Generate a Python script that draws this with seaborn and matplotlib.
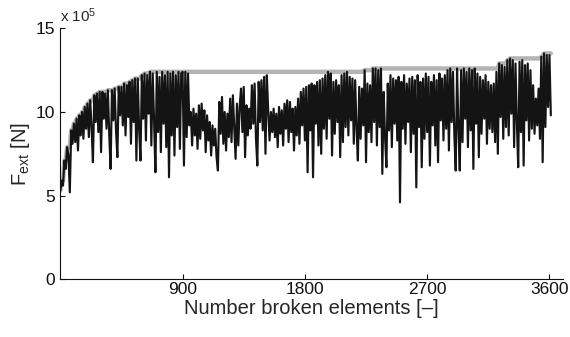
import numpy as np
import pandas as pd
import matplotlib
matplotlib.use("Agg")
import matplotlib.pyplot as plt
import seaborn as sns

# External force F_ext in units of 1e5 N, sampled every 10 broken elements
force_0_890 = [5.3, 5.9, 5.6, 7.1, 6.6, 7.9, 7.4, 5.2, 8.9, 8.1,
               9.3, 8.2, 9.6, 7.7, 9.8, 8.6, 10.0, 8.4, 10.3, 9.0,
               10.5, 8.5, 10.7, 9.1, 7.0, 11.0, 9.4, 11.1, 8.8, 11.2,
               7.6, 11.2, 9.6, 11.1, 9.0, 11.3, 8.7, 6.6, 11.3, 9.5,
               11.4, 8.9, 7.3, 11.5, 9.8, 11.5, 9.2, 11.7, 8.6, 11.6,
               9.7, 11.8, 8.1, 11.9, 9.4, 12.0, 7.1, 12.0, 9.0, 7.1,
               12.2, 9.6, 12.3, 8.3, 12.2, 9.9, 12.4, 8.0, 12.3, 9.5,
               6.4, 12.4, 8.8, 12.1, 7.6, 12.4, 9.3, 12.2, 7.9, 12.4,
               6.1, 12.3, 8.6, 12.4, 7.4, 12.2, 9.1, 12.4, 7.8, 12.3]
force_900_1790 = [12.4, 6.8, 12.4, 8.5, 12.3, 9.2, 10.0, 8.0, 10.2, 8.6,
                  9.9, 7.8, 10.4, 8.4, 10.5, 8.9, 10.1, 7.6, 9.8, 8.3,
                  9.4, 7.4, 9.2, 8.0, 9.0, 7.3, 6.5, 10.6, 8.7, 10.9,
                  8.1, 10.0, 7.7, 9.9, 8.5, 10.8, 8.2, 11.0, 9.1, 7.2,
                  10.5, 8.0, 10.3, 11.4, 8.8, 11.5, 7.3, 10.4, 8.6, 10.2,
                  9.0, 11.6, 9.3, 11.7, 8.4, 6.8, 11.8, 9.4, 11.9, 8.9,
                  12.1, 7.5, 12.2, 10.1, 8.3, 10.0, 8.8, 10.2, 8.5, 9.9,
                  7.9, 10.3, 8.7, 10.1, 8.0, 10.5, 9.0, 10.7, 8.2, 10.6,
                  8.8, 10.2, 7.7, 10.3, 8.6, 10.8, 8.1, 11.2, 9.2, 11.4]
force_1800_2690 = [8.3, 11.5, 6.4, 11.6, 8.9, 11.7, 6.1, 11.6, 9.3, 11.8,
                   8.0, 11.9, 7.5, 12.0, 9.0, 12.2, 8.4, 12.4, 9.6, 12.3,
                   7.4, 11.8, 8.7, 11.9, 9.4, 11.6, 7.3, 12.2, 8.2, 12.3,
                   9.1, 12.4, 8.6, 12.1, 9.5, 12.0, 8.1, 11.9, 9.0, 7.1,
                   11.5, 8.4, 11.4, 9.2, 12.5, 7.0, 11.7, 8.8, 11.6, 8.2,
                   12.6, 9.4, 12.6, 8.0, 12.5, 9.1, 12.6, 6.3, 11.2, 8.5,
                   6.7, 11.7, 8.9, 12.2, 7.9, 12.0, 9.3, 11.9, 8.3, 12.1,
                   4.6, 11.8, 9.0, 12.2, 8.1, 11.7, 9.4, 12.0, 7.6, 12.1,
                   8.7, 11.9, 5.5, 12.2, 9.1, 11.8, 6.7, 12.0, 8.4, 12.3]
force_2700_3610 = [8.8, 12.1, 6.8, 11.8, 9.2, 12.2, 8.0, 11.9, 7.0, 12.3,
                   9.5, 12.0, 8.3, 12.2, 9.0, 12.5, 7.7, 12.6, 9.4, 12.4,
                   8.6, 6.5, 12.6, 9.1, 6.5, 12.5, 8.2, 12.6, 9.6, 12.4,
                   7.9, 12.6, 8.9, 12.5, 6.6, 12.6, 9.3, 12.3, 7.3, 12.1,
                   8.7, 11.9, 9.6, 12.2, 8.1, 11.8, 9.0, 11.6, 8.8, 11.7,
                   8.2, 12.4, 7.5, 12.9, 9.7, 12.8, 8.4, 12.7, 9.1, 13.1,
                   8.6, 13.2, 9.9, 13.1, 7.9, 12.9, 9.4, 6.7, 13.0, 8.8,
                   13.1, 6.8, 12.8, 9.5, 12.9, 8.3, 12.5, 9.0, 11.6, 8.7,
                   10.8, 9.2, 11.4, 8.4, 13.3, 7.0, 13.5, 9.1, 13.4, 10.3,
                   13.4, 9.8]

step = 10
x_ticks = [900, 1800, 2700, 3600]
y_ticks = [0, 5, 10, 15]

force = np.array(force_0_890 + force_900_1790 + force_1800_2690 + force_2700_3610)
elements = np.arange(len(force)) * step
df = pd.DataFrame({"elements": elements, "force": force,
                   "envelope": np.maximum.accumulate(force)})

sns.set_style("white")
plt.rcParams["font.family"] = ["Liberation Sans", "DejaVu Sans"]
plt.rcParams["mathtext.fontset"] = "custom"
plt.rcParams["mathtext.rm"] = "Liberation Sans"
plt.rcParams["mathtext.it"] = "Liberation Sans:italic"

fig = plt.figure(figsize=(5.7, 3.37), dpi=100)
ax = fig.add_axes([0.1058, 0.171, 0.882, 0.745])

sns.lineplot(data=df, x="elements", y="envelope", ax=ax, color="#b4b4b4",
             linewidth=3.2, estimator=None, sort=False)
sns.lineplot(data=df, x="elements", y="force", ax=ax, color="#141414",
             linewidth=1.55, estimator=None, sort=False)

ax.set_xlim(0, 3700)
ax.set_ylim(0, 15)
ax.set_xticks(x_ticks)
ax.set_yticks(y_ticks)
ax.tick_params(direction="in", length=3.5, width=0.8, labelsize=12.5,
               colors="#111111", bottom=True, left=True)
ax.tick_params(axis="x", pad=2)
ax.tick_params(axis="y", pad=4)
for s in ["top", "right"]:
    ax.spines[s].set_visible(False)
for s in ["left", "bottom"]:
    ax.spines[s].set_color("#111111")
    ax.spines[s].set_linewidth(0.8)

ax.set_xlabel("Number broken elements [\u2013]", fontsize=14.5, labelpad=1.5)
ax.set_ylabel(r"F$_{\mathrm{ext}}$ [N]", fontsize=14.5, labelpad=2)
ax.text(0.0, 1.012, r"x 10$^{5}$", transform=ax.transAxes, fontsize=11,
        ha="left", va="bottom")

fig.savefig("out.png", dpi=100)
